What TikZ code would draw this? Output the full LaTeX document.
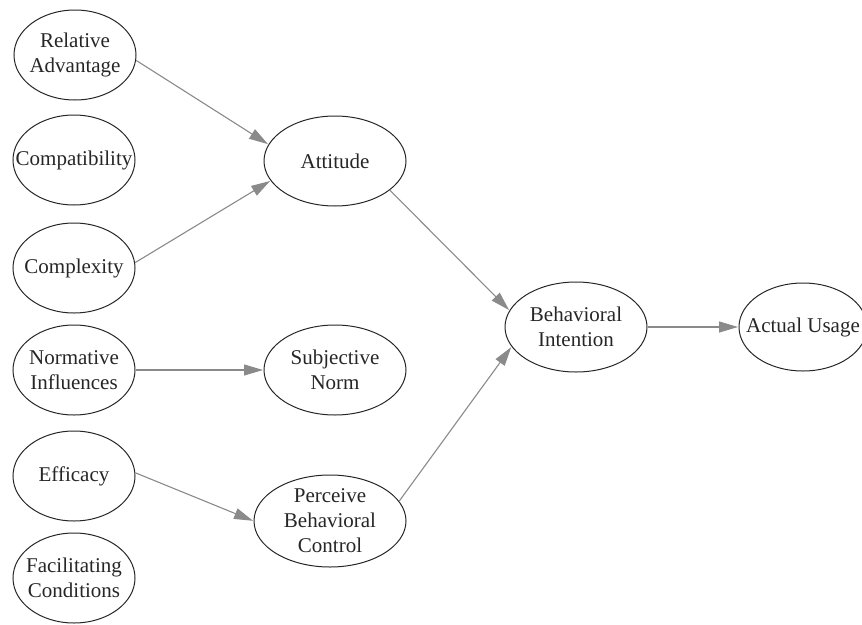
\documentclass[tikz,border=0pt]{standalone}
\usepackage{fontspec}
\setmainfont{Liberation Serif}
\usetikzlibrary{shapes.geometric,arrows.meta}
\definecolor{txt}{HTML}{262626}
\definecolor{edge}{HTML}{8A8A8A}
\tikzset{
  lbl/.style={align=center, text=txt, inner sep=0pt, font=\fontsize{21}{25}\selectfont},
  construct/.style={ellipse, draw=txt, line width=1pt, inner sep=0pt},
  small/.style={construct, minimum width=122pt, minimum height=90pt},
  mid/.style={construct, minimum width=142pt, minimum height=90pt},
  link/.style={draw=edge, line width=1.1pt, -{Triangle[length=19pt,width=11pt]}, shorten >=0.5pt}
}
\begin{document}
\begin{tikzpicture}[x=1pt,y=-1pt]
\useasboundingbox (0,0) rectangle (862,624);
\node[small, label={[lbl]center:Relative\\Advantage}] (ra) at (75,55) {};
\node[small, label={[lbl]center:Compatibility}] (comp) at (74,160) {};
\node[small, label={[lbl]center:Complexity}] (cplx) at (74,268) {};
\node[small, label={[lbl]center:Normative\\Influences}] (norm) at (74,370) {};
\node[small, label={[lbl]center:Efficacy}] (eff) at (74,476) {};
\node[small, label={[lbl]center:Facilitating\\Conditions}] (fac) at (74,578) {};
\node[mid, label={[lbl]center:Attitude}] (att) at (335,161) {};
\node[mid, label={[lbl]center:Subjective\\Norm}] (sn) at (335,370) {};
\node[construct, minimum width=152pt, minimum height=92pt, label={[lbl]center:Perceive\\Behavioral\\Control}] (pbc) at (330,521) {};
\node[mid, label={[lbl]center:Behavioral\\Intention}] (bi) at (576,327) {};
\node[construct, minimum width=128pt, minimum height=88pt, label={[lbl]center:Actual Usage}] (au) at (803,327) {};
\draw[link] (ra.355) -- (att.166);
\draw[link] (cplx.5) -- (att.197);
\draw[link] (norm.east) -- (sn.west);
\draw[link] (eff.3) -- (pbc.west);
\draw[link] (att.-28) -- (bi.166);
\draw[link] (pbc.16) -- (bi.197);
\draw[link] (bi.east) -- (au.west);
\end{tikzpicture}
\end{document}
